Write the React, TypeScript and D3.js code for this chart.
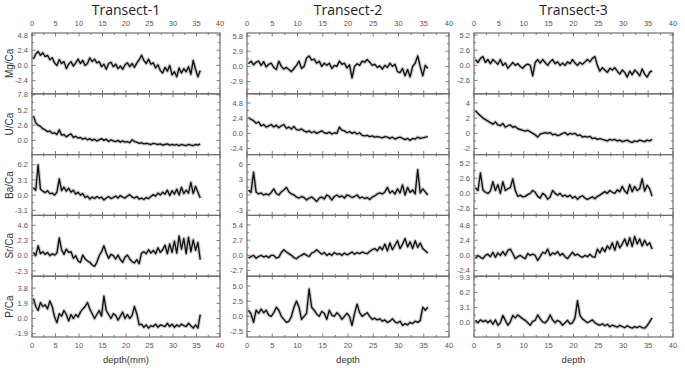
import React from "react";
import * as d3 from "d3";

const depth = d3.range(72).map((i) => 0.3 + i * 0.5);

const elements = ["Mg/Ca", "U/Ca", "Ba/Ca", "Sr/Ca", "P/Ca"];
const transects = ["Transect-1", "Transect-2", "Transect-3"];
const xTicks = [0, 5, 10, 15, 20, 25, 30, 35, 40];

// Transect-1
const t1Mg = [1.0, 1.8, 2.2, 1.6, 2.0, 1.4, 1.6, 0.9, 1.2, 0.4,
  0.0, 0.9, 0.3, 0.6, -0.5, 0.2, 0.6, -0.1, 0.4, 1.0,
  0.3, 0.8, 0.0, 0.3, 1.2, 0.6, 1.0, 0.4, 0.6, -0.2,
  0.2, -0.6, 0.3, 0.5, -0.2, 0.2, -0.5, -0.1, -0.6, 0.1,
  0.4, -0.2, 0.3, -0.3, 0.4, 0.9, 1.6, 0.8, 0.3, 1.0,
  0.2, 0.4, -0.4, 0.1, -0.8, -1.2, -0.3, -0.9, 0.0, -1.5,
  -1.0, -1.8, -0.4, -1.2, -0.5, -1.0, -0.2, -1.4, 0.8, -0.6,
  -1.8, -0.8];
const t1U = [4.2, 3.0, 2.6, 2.4, 2.0, 1.8, 1.5, 1.6, 1.2, 1.3,
  1.0, 1.8, 0.9, 1.0, 0.6, 0.9, 1.1, 0.5, 0.7, 0.4,
  0.5, 0.2, 0.4, 0.1, 0.3, 0.0, 0.2, -0.1, 0.1, 0.3,
  0.0, 0.2, -0.2, 0.1, -0.1, -0.2, 0.0, -0.3, -0.1, -0.3,
  -0.2, -0.4, 0.1, -0.2, -0.3, -0.5, -0.4, -0.6, -0.5, -0.6,
  -0.7, -0.5, -0.6, -0.7, -0.6, -0.8, -0.7, -0.6, -0.8, -0.7,
  -0.8, -0.7, -0.9, -0.7, -0.8, -0.9, -0.7, -0.8, -0.9, -0.7,
  -0.8, -0.6];
const t1Ba = [1.5, 1.0, 6.2, 1.2, 0.8, 0.5, 0.9, 0.3, 0.4, 0.0,
  0.6, 3.3, 0.9, 1.6, 0.8, 1.4, 0.6, 1.0, 0.2, 0.6,
  0.0, 0.3, -0.5, -0.2, -0.8, -0.4, -0.7, -0.3, -0.6, -0.4,
  -1.0, -0.6, -0.3, -0.7, -0.5, -0.2, -0.6, -0.1, -0.4, -0.6,
  -0.2, 0.1, -0.4, -0.6, -0.3, -0.8, -0.6, -0.9, -0.5, -0.7,
  -0.3, 0.1, -0.2, 0.4, 0.0, 0.6, 0.2, 1.0, -0.1, 0.9,
  0.2, 1.2, 0.0, 1.6, 0.3, 1.0, 0.4, 2.6, 0.3, 1.8,
  0.6, -0.6];
const t1Sr = [0.5, 0.0, 1.5, 0.3, 0.6, 0.2, 0.5, 0.0, 0.3, 0.1,
  0.4, 2.7, 0.9, 0.2, 1.0, 0.5, 0.6, -0.4, 0.0, -0.8,
  -1.0, 0.1, -0.5, -0.8, -1.0, -1.4, -1.6, -1.0, 0.0, 0.6,
  1.5, 0.4, -0.4, 0.2, 0.0, -0.5, 0.1, -0.6, -1.0, -0.2,
  0.1, -0.5, -0.9, -1.1, -0.6, -1.2, 0.4, 0.6, 0.3, 0.9,
  0.4, 0.8, 0.3, 1.2, 0.5, 0.9, 1.6, 0.3, 1.8, 0.5,
  2.2, 0.4, 3.0, 1.0, 2.6, 0.3, 2.8, 0.6, 2.4, 0.8,
  2.0, -0.6];
const t1P = [2.5, 1.5, 1.0, 2.0, 1.5, 1.7, 1.2, 2.2, 1.5, 0.2,
  -0.5, 0.6, 0.3, 1.0, 0.5, -0.3, 0.5, 0.0, 0.5, 0.2,
  0.8, 1.2, 1.5, 2.0, 1.2, 0.6, 0.0, 0.5, 1.0, 0.3,
  2.8, 1.0, 0.5, 0.0, 0.6, 0.4, -0.2, 0.3, 0.8, 0.0,
  0.5, 0.0, 0.4, 1.5, 0.6, -0.8, -0.7, -1.1, -0.8, -1.2,
  -0.9, -1.0, -0.7, -1.1, -0.8, -0.9, -1.0, -0.6, -1.0, -0.7,
  -1.1, -0.8, -1.0, -0.7, -0.9, -1.0, -0.6, -0.9, -1.2, -0.8,
  -1.2, 0.5];

// Transect-2
const t2Mg = [0.5, 1.0, 0.3, 0.8, 1.0, 0.2, 0.9, -0.1, 0.4, 0.6,
  -0.2, -0.6, 1.0, 0.0, -0.5, -0.2, -0.6, -1.0, -0.4, 0.2,
  1.0, -0.4, 0.0, 1.6, 2.0, 1.2, 1.4, 0.6, 1.0, 0.0,
  0.6, 0.2, 0.6, -0.4, 0.2, 0.0, 1.0, 0.4, 0.6, -0.3,
  0.3, -2.2, 0.0, 0.5, 0.2, 1.0, 0.8, 1.3, 0.8, 0.2,
  0.4, -0.2, 0.1, -0.5, 0.2, -0.2, 0.6, 0.0, 0.4, -1.0,
  -1.2, -0.4, -1.8, -0.6, -2.0, 0.0, 0.6, 2.0, 0.0, -1.8,
  0.2, -0.4];
const t2U = [2.5, 2.2, 2.0, 1.6, 1.8, 1.2, 1.4, 1.0, 1.2, 1.4,
  1.0, 1.3, 0.9, 1.2, 1.4, 0.8, 1.0, 0.7, 1.1, 0.6,
  0.5, 0.7, 0.4, 0.2, 0.4, 0.1, 0.3, 0.0, 0.2, 0.4,
  0.1, 0.0, 0.2, -0.1, 0.1, 0.0, 1.0, 0.5, 0.4, 0.1,
  0.3, 0.0, 0.2, -0.1, 0.1, -0.3, -0.4, -0.3, -0.5, -0.4,
  -0.6, -0.5, -0.6, -0.7, -0.5, -0.6, -0.8, -0.6, -0.9, -0.7,
  -0.6, -0.8, -1.0, -0.8, -1.1, -0.8, -0.9, -0.6, -0.8, -0.7,
  -0.6, -0.5];
const t2Ba = [1.0, 0.5, 4.5, 0.6, 0.2, 0.4, 0.0, 0.2, 0.0, 0.5,
  1.2, 0.3, 0.0, 0.6, 1.0, 1.5, 0.6, 0.2, 0.0, -0.4,
  -0.6, -0.3, -0.5, -1.0, -0.6, -0.4, -0.8, -1.3, -0.6, -0.4,
  -0.8, 0.0, -0.3, -1.0, -0.3, 0.0, -0.4, -0.2, -0.6, 0.0,
  -0.2, -0.5, -0.3, 0.0, -0.6, -0.4, -0.7, -0.5, -0.9, -0.4,
  -0.2, 0.2, 0.4, 0.2, 0.6, 1.5, 0.4, 0.8, 0.2, 1.2,
  0.4, 2.0, 0.0, 1.5, 0.5, 1.0, 0.2, 5.0, 0.4, 1.2,
  0.6, 0.0];
const t2Sr = [-0.5, -0.2, 0.0, -0.5, -0.2, 0.0, -0.3, -0.1, -0.4, 0.0,
  0.0, -0.5, -0.3, 0.5, 1.0, 0.6, 0.3, 0.0, -0.4, -0.6,
  -0.2, 0.0, 0.3, 0.0, -0.2, 0.4, 0.6, 1.0, 0.6, 0.2,
  0.5, 0.0, 0.3, 0.0, 0.5, 0.2, 0.3, 0.0, 0.4, 0.1,
  0.3, 0.6, 0.2, 0.5, 0.3, 0.6, 0.4, 0.3, 0.7, 1.0,
  1.2, 0.8, 1.5, 1.0, 2.0, 0.8, 2.2, 1.0, 1.8, 2.6,
  1.2, 2.0, 3.0, 1.5, 2.4, 1.2, 2.6, 1.4, 2.2, 1.2,
  0.8, 0.4];
const t2P = [1.0, 0.4, -1.0, 1.0, 0.5, 1.2, 0.6, 1.0, 0.2, 0.0,
  0.6, 1.5, 1.0, 0.0, -0.5, -1.0, -0.8, 0.0, 1.5, 2.5,
  1.5, -0.5, 0.0, 0.5, 4.5, 1.5, 1.0, 0.4, 0.0, 0.8,
  0.5, -0.5, 1.0, 0.2, 0.0, 0.6, 0.2, -0.5, 0.0, 0.5,
  0.0, -1.5, 0.5, 2.0, 0.6, 0.0, 0.3, 0.6, 0.0, -0.5,
  -0.3, -0.6, -0.4, -0.8, -0.6, -1.0, -0.8, -0.4, -0.9, -1.1,
  -0.8, -1.5, -1.2, -1.4, -1.0, -1.2, -0.8, -1.0, -0.7, 1.5,
  1.0, 1.5];

// Transect-3
const t3Mg = [1.0, 0.5, 1.2, 1.5, 0.5, 1.0, 0.3, 1.0, 0.6, 0.2,
  1.0, 0.0, 0.4, -0.5, 0.0, 0.5, 0.0, 0.3, -0.2, -0.5,
  0.0, 0.2, 0.0, -1.8, 0.5, 1.0, 0.4, 1.0, 0.5, 0.0,
  0.6, 1.0, 0.3, 0.6, 0.0, 0.4, 0.0, 0.6, 0.3, 1.0,
  0.4, 0.0, 0.5, 0.2, 0.6, 1.0, 0.6, 1.2, 1.5, 0.0,
  -1.0, -0.4, -0.8, -1.2, -0.5, -0.8, -0.4, -1.0, -1.5, -0.8,
  -1.2, -2.0, -1.0, -1.6, -0.8, -1.2, -1.8, -0.6, -1.5, -2.0,
  -1.2, -0.9];
const t3U = [3.0, 2.6, 2.3, 2.0, 1.8, 1.6, 1.4, 1.2, 1.5, 1.1,
  1.0, 1.3, 0.8, 1.0, 1.1, 0.8, 0.9, 0.6, 0.5, 0.4,
  0.3, 0.4, 0.2, 0.0, -0.2, -0.5, -0.1, 0.0, 0.1, 0.0,
  0.1, -0.2, -0.1, -0.3, -0.2, 0.0, 0.1, -0.2, 0.0, -0.1,
  0.0, -0.3, -0.2, -0.5, -0.4, -0.5, -0.4, -0.7, -0.6, -0.8,
  -0.7, -0.8, -0.9, -1.0, -0.8, -0.9, -0.8, -1.0, -0.9, -1.1,
  -1.0, -0.9, -1.1, -1.2, -1.0, -1.1, -0.9, -1.0, -1.1, -0.9,
  -1.0, -0.8];
const t3Ba = [1.0, 0.5, 3.5, 0.6, 0.2, 0.0, 0.4, 2.0, 0.5, 1.5,
  0.0, 2.0, 0.5, 0.8, 1.0, 2.5, 0.5, -0.5, -0.3, -0.6,
  -0.5, -0.2, 0.0, 0.5, 0.2, -0.5, -0.8, 0.0, -0.3, -1.0,
  -0.6, 0.5, 0.0, -0.3, 0.0, -0.5, -0.3, -0.6, -0.3, -0.8,
  -0.5, -1.0, -0.6, -0.4, -0.8, -1.0, -0.8, -0.6, -0.9, -0.5,
  -0.3, 0.0, 0.3, 0.0, 0.5, 0.2, 0.0, 0.6, 0.3, 1.2,
  0.4, 0.0, 1.5, 0.3, 1.2, 0.5, 0.8, 2.5, 0.4, 1.4,
  0.8, -0.5];
const t3Sr = [-0.5, 0.0, -0.3, -0.5, 0.0, 0.2, -0.2, 0.5, -0.3, 0.4,
  0.0, 0.6, 0.0, 0.8, 1.0, 0.3, -0.5, -0.2, 0.0, -0.3,
  -0.5, 0.3, 0.0, 0.2, 0.0, -0.8, -0.2, 0.5, 0.3, 1.0,
  0.0, 0.4, 0.2, 0.6, 0.0, 0.3, -0.2, -0.5, 0.0, 0.5,
  0.0, 0.2, -0.1, -0.3, 0.0, -0.2, 0.2, -0.2, -0.3, 1.0,
  0.4, 1.2, 0.6, 1.5, 1.0, 2.0, 0.8, 2.2, 1.2, 1.8,
  2.6, 1.5, 2.8, 1.4, 3.0, 1.8, 2.6, 1.5, 2.4, 1.6,
  2.0, 1.0];
const t3P = [0.5, 0.0, 0.6, 0.2, 0.5, 0.0, 0.5, -0.3, 0.6, -0.5,
  0.0, 1.5, 0.5, -0.5, 0.2, 1.5, 1.0, 1.6, 1.2, 0.8,
  0.5, 0.0, -0.5, 0.3, 0.5, 1.6, 0.8, 0.2, 0.0, 0.5,
  1.6, 0.6, 0.0, 0.5, 0.2, -0.5, 0.0, 0.5, -0.2, 0.0,
  1.0, 4.5, 1.5, 0.8, 0.4, 0.0, 0.3, 0.6, 0.0, -0.3,
  -0.5, -0.2, -0.6, -0.3, -0.8, -0.5, -0.7, -0.9, -0.5, -0.8,
  -1.0, -0.6, -0.9, -1.1, -0.8, -1.0, -0.7, -1.0, -1.1, -0.6,
  0.2, 1.0];

// y domains [lo, hi] per transect / element
const t1Domains = [[-4.48, 5.12], [-2.43, 7.97], [-4.14, 8.26], [-3.1, 6.1], [-2.31, 5.29]];
const t2Domains = [[-5.23, 6.37], [-3.35, 6.25], [-4.03, 7.97], [-3.7, 7.1], [-3.4, 6.6]];
const t3Domains = [[-4.86, 5.54], [-2.8, 5.2], [-3.76, 6.64], [-3.28, 6.32], [-2.9, 9.5]];

const t1TickLabels = [["4.8", "2.4", "0.0", "-2.4"], ["7.8", "5.2", "2.6", "0.0"], ["6.2", "3.1", "0.0", "-3.1"], ["4.6", "2.3", "0.0", "-2.3"], ["3.8", "1.9", "0.0", "-1.9"]];
const t2TickLabels = [["5.8", "2.9", "0.0", "-2.9"], ["4.8", "2.4", "0.0", "-2.4"], ["6", "3", "0", "-3"], ["5.4", "2.7", "0.0", "-2.7"], ["5.0", "2.5", "0.0", "-2.5"]];
const t3TickLabels = [["5.2", "2.6", "0.0", "-2.6"], ["4", "2", "0", "-2"], ["5.2", "2.6", "0.0", "-2.6"], ["4.8", "2.4", "0.0", "-2.4"], ["9.3", "6.2", "3.1", "0.0"]];

const xLabels = ["depth(mm)", "depth", "depth"];

const seriesAll = [
  [t1Mg, t1U, t1Ba, t1Sr, t1P],
  [t2Mg, t2U, t2Ba, t2Sr, t2P],
  [t3Mg, t3U, t3Ba, t3Sr, t3P],
];
const domainsAll = [t1Domains, t2Domains, t3Domains];
const tickLabelsAll = [t1TickLabels, t2TickLabels, t3TickLabels];

const W = 685;
const H = 368;
const panelX = [[32, 220], [247, 449], [474, 673]];
const TOP = 33;
const BOTTOM = 337;
const FRAME = "#6e6e6e";
const TXT = "#555";
const FONT = "'Liberation Sans', Arial, sans-serif";

function Panel({ t }: { t: number }) {
  const [x0, x1] = panelX[t];
  const x = d3.scaleLinear().domain([0, 40]).range([x0, x1]);
  const rowH = (BOTTOM - TOP) / 5;
  const minorX = d3.range(0, 40.01, 2.5);
  return (
    <g>
      <text x={(x0 + x1) / 2} y={15} textAnchor="middle" fontSize={14} fontFamily="'Open Sans', 'Noto Sans', sans-serif" fill="#222">
        {transects[t]}
      </text>
      {xTicks.map((v) => (
        <text key={"tt" + v} x={x(v)} y={25.5} textAnchor="middle" fontSize={7.5} fontFamily={FONT} fill={TXT}>{v}</text>
      ))}
      {xTicks.map((v) => (
        <text key={"bt" + v} x={x(v)} y={348} textAnchor="middle" fontSize={7.5} fontFamily={FONT} fill={TXT}>{v}</text>
      ))}
      <text x={(x0 + x1) / 2} y={363} textAnchor="middle" fontSize={9.5} fontFamily={FONT} fill="#333">{xLabels[t]}</text>
      {elements.map((el, r) => {
        const top = TOP + r * rowH;
        const bot = top + rowH;
        const [lo, hi] = domainsAll[t][r];
        const y = d3.scaleLinear().domain([lo, hi]).range([bot, top]);
        const labels = tickLabelsAll[t][r];
        const tickVals = labels.map((s) => +s);
        const step = Math.abs(tickVals[0] - tickVals[1]);
        const minorY = d3.range(-6, 7).map((k) => tickVals[3] + (k * step) / 2).filter((v) => y(v) > top + 0.5 && y(v) < bot - 0.5);
        const vals = seriesAll[t][r];
        const pts: [number, number][] = vals.map((v, i) => [x(depth[i]), y(v)]);
        const line = d3.line<[number, number]>().x((d) => d[0]).y((d) => d[1]);
        const dStr = line(pts) || "";
        return (
          <g key={el}>
            <clipPath id={`clip-${t}-${r}`}>
              <rect x={x0} y={top} width={x1 - x0} height={rowH} />
            </clipPath>
            <g clipPath={`url(#clip-${t}-${r})`}>
              <path d={dStr} fill="none" stroke="#8a8a8a" strokeOpacity={0.45} strokeWidth={3.6} strokeLinejoin="round" />
              <path d={dStr} fill="none" stroke="#111" strokeWidth={1.35} strokeLinejoin="round" />
            </g>
            {minorX.map((v) => {
              const major = v % 5 === 0;
              const len = major ? 3.5 : 2;
              return (
                <g key={"xt" + v}>
                  <line x1={x(v)} x2={x(v)} y1={top} y2={top + len} stroke={FRAME} strokeWidth={0.9} />
                  <line x1={x(v)} x2={x(v)} y1={bot} y2={bot - len} stroke={FRAME} strokeWidth={0.9} />
                </g>
              );
            })}
            {minorY.map((v, k) => {
              const isMajor = tickVals.some((tv) => Math.abs(tv - v) < 1e-6);
              const len = isMajor ? 3.5 : 2;
              return (
                <g key={"yt" + k}>
                  <line x1={x0} x2={x0 + len} y1={y(v)} y2={y(v)} stroke={FRAME} strokeWidth={0.9} />
                  <line x1={x1} x2={x1 - len} y1={y(v)} y2={y(v)} stroke={FRAME} strokeWidth={0.9} />
                </g>
              );
            })}
            {labels.map((s) => (
              <text key={"yl" + s} x={x0 - 4} y={y(+s)} dy="0.35em" textAnchor="end" fontSize={7.5} fontFamily={FONT} fill={TXT}>{s}</text>
            ))}
            <rect x={x0} y={top} width={x1 - x0} height={rowH} fill="none" stroke={FRAME} strokeWidth={1.2} />
            {t === 0 && (
              <text transform={`translate(13,${(top + bot) / 2}) rotate(-90)`} textAnchor="middle" fontSize={10} fontFamily={FONT} fill="#333">{el}</text>
            )}
          </g>
        );
      })}
    </g>
  );
}

export default function App() {
  return (
    <svg width={W} height={H} style={{ position: "absolute", left: 0, top: 0, background: "#fff" }}>
      <rect width={W} height={H} fill="#fff" />
      {[0, 1, 2].map((t) => (
        <Panel key={t} t={t} />
      ))}
    </svg>
  );
}
